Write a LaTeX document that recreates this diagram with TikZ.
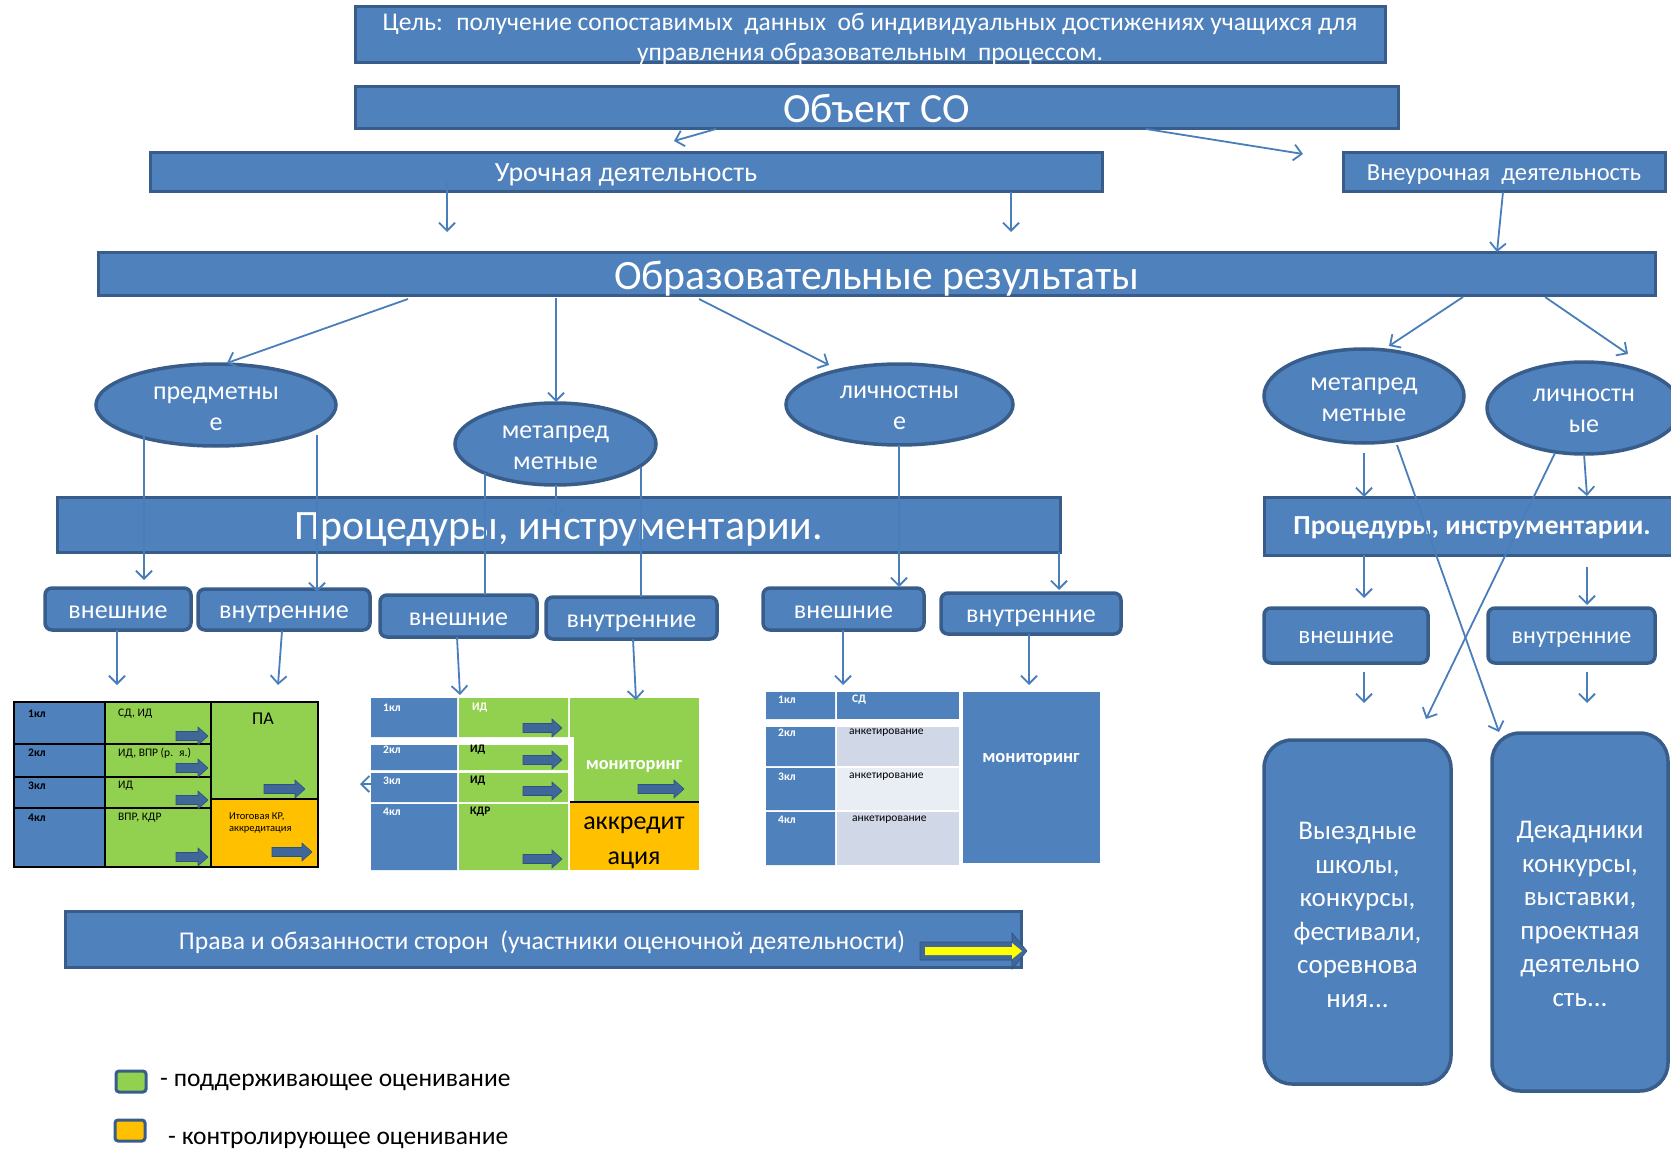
\documentclass[tikz,border=0pt]{standalone}
\usepackage{fontspec}
\setmainfont{Carlito}
\usetikzlibrary{arrows.meta,shapes.geometric}
\definecolor{bfill}{HTML}{4F81BD}
\definecolor{bborder}{HTML}{385D8A}
\definecolor{lblue}{HTML}{4A7EBB}
\definecolor{gfill}{HTML}{92D050}
\definecolor{ofill}{HTML}{FFC000}
\definecolor{grayA}{HTML}{D0D8E8}
\definecolor{grayB}{HTML}{E9EDF4}
\definecolor{barrowc}{HTML}{3F679A}
\definecolor{barrowd}{HTML}{2F5180}
\definecolor{yarrow}{HTML}{FFFF00}
\newcommand\fsz[2]{\fontsize{#1pt}{#2pt}\selectfont}
\newcommand\blkarrow[3]{\filldraw[fill=barrowc,draw=barrowd,line width=0.6pt] (#1,{#3-4.5}) -- ({#2-10},{#3-4.5}) -- ({#2-10},{#3-9}) -- (#2,#3) -- ({#2-10},{#3+9}) -- ({#2-10},{#3+4.5}) -- (#1,{#3+4.5}) -- cycle;}
\begin{document}
\begin{tikzpicture}[x=1pt,y=-1pt,
 bar/.style={draw=bborder,fill=bfill,line width=3pt,inner sep=0pt,text=white,align=center},
 fixL/.style={text height=29.6pt,text depth=0pt},
 rbox/.style={bar,rounded corners=7pt,line width=3.5pt,font=\fsz{26}{28},text height=18pt,text depth=0pt},
 bigbox/.style={bar,rounded corners=28pt,line width=3.5pt},
 ell/.style={ellipse,draw=bborder,fill=bfill,line width=3.5pt,inner sep=0pt},
 wtxt/.style={inner sep=0pt,text=white,align=center},
 conn/.style={draw=lblue,line width=1.8pt,-{Straight Barb[length=8pt,width=16pt]}},
 plain/.style={draw=lblue,line width=1.8pt},
 lbl/.style={inner sep=0pt,anchor=west},
 wlbl/.style={lbl,text=white,font=\fsz{11.5}{13}\bfseries},
 blbl/.style={lbl,font=\fsz{11.5}{13}},
 kblbl/.style={lbl,font=\fsz{11.5}{13}\bfseries},
 leglbl/.style={lbl,font=\fsz{25.5}{27},text height=12pt,text depth=0pt},
 legbox/.style={draw=bborder,line width=3pt,rounded corners=3pt,minimum width=30pt,minimum height=21pt,inner sep=0pt},
]
\useasboundingbox (0,0) rectangle (1671,1150);
\clip (0,0) rectangle (1671,1150);

% ---------- top bars
\node[bar,minimum width=1030pt,minimum height=56pt] (goal) at (870,35) {};
\node[wtxt,font=\fsz{25.5}{30}] (goalt) at (870,38.5) {Цель: \ получение сопоставимых \ данных \ об индивидуальных достижениях учащихся для\\управления образовательным \ процессом.};
\node[bar,minimum width=1043pt,minimum height=42pt,font=\fsz{41.5}{43},fixL] (obj) at (876.5,108) {Объект СО};
\node[bar,minimum width=952pt,minimum height=39pt,font=\fsz{27.8}{29},text height=17.5pt,text depth=0pt] (uroch) at (626,172.5) {Урочная деятельность};
\node[bar,minimum width=322pt,minimum height=39pt,font=\fsz{24.5}{26},text height=15.5pt,text depth=0pt] (vneur) at (1504,172.5) {Внеурочная \ деятельность};
\node[bar,minimum width=1557pt,minimum height=43pt,font=\fsz{41.7}{43},fixL] (obr) at (876.5,274.5) {Образовательные результаты};

% ---------- ellipses
\node[ell,minimum width=240pt,minimum height=82pt] (pred) at (216,405) {};
\node[wtxt,font=\fsz{26}{31}] (predt) at (216,409) {предметны\\е};
\node[ell,minimum width=201pt,minimum height=82pt] (metaM) at (555.5,444) {};
\node[wtxt,font=\fsz{26}{31}] (metaMt) at (555.5,447.5) {метапред\\метные};
\node[ell,minimum width=227pt,minimum height=81pt] (lichM) at (899.5,404.5) {};
\node[wtxt,font=\fsz{26}{31}] (lichMt) at (899.5,408) {личностны\\е};
\node[ell,minimum width=200pt,minimum height=94pt] (metaR) at (1364,396) {};
\node[wtxt,font=\fsz{26}{31}] (metaRt) at (1364,399.5) {метапред\\метные};
\node[ell,minimum width=194pt,minimum height=92pt] (lichR) at (1584,408) {};
\node[wtxt,font=\fsz{26}{31}] (lichRt) at (1584,411) {личностн\\ые};

% ---------- procedures
\node[bar,minimum width=1003pt,minimum height=55pt,font=\fsz{41.8}{43},fixL] (procL) at (558.5,524.5) {Процедуры, инструментарии.};
\node[bar,minimum width=416pt,minimum height=58pt,font=\fsz{27.5}{29}\bfseries,text height=16.5pt,text depth=0pt] (procR) at (1472,526) {Процедуры, инструментарии.};

% ---------- small boxes
\node[rbox,minimum width=146pt,minimum height=42pt] (vn1) at (118,609) {внешние};
\node[rbox,minimum width=172pt,minimum height=41pt] (vt1) at (284,609.5) {внутренние};
\node[rbox,minimum width=157pt,minimum height=42pt] (vn2) at (458.5,616) {внешние};
\node[rbox,minimum width=171pt,minimum height=42pt] (vt2) at (631.5,618) {внутренние};
\node[rbox,minimum width=161pt,minimum height=42pt] (vn3) at (843.5,609) {внешние};
\node[rbox,minimum width=180pt,minimum height=41pt] (vt3) at (1031,613.5) {внутренние};
\node[rbox,minimum width=164pt,minimum height=55pt,font=\fsz{25}{27},text height=16.6pt] (vnR) at (1346,635.5) {внешние};
\node[rbox,minimum width=167pt,minimum height=55pt,font=\fsz{24}{26},text height=16pt] (vtR) at (1571.5,635.5) {внутренние};

% ---------- bottom right boxes
\node[bigbox,minimum width=187pt,minimum height=344pt] (bL) at (1357.5,912) {};
\node[wtxt,font=\fsz{27}{33.5}] (bLt) at (1357.5,915) {Выездные\\школы,\\конкурсы,\\фестивали,\\соревнова\\ния...};
\node[bigbox,minimum width=176pt,minimum height=358pt] (bR) at (1580,912) {};
\node[wtxt,font=\fsz{27}{33.5}] (bRt) at (1580,914) {Декадники\\конкурсы,\\выставки,\\проектная\\деятельно\\сть...};

% ---------- table 1
\fill[bfill] (14,702) rectangle (105,867);
\fill[gfill] (105,702) rectangle (211,867);
\fill[gfill] (211,702) rectangle (318,799);
\fill[ofill] (211,799) rectangle (318,867);
\draw[black,line width=2pt] (14,744) -- (211,744) (14,777) -- (211,777) (14,808) -- (211,808) (211,799) -- (318,799) (105,702) -- (105,867) (211,702) -- (211,867);
\draw[black,line width=2.5pt] (14,702) rectangle (318,867);
\node[kblbl] (t1a) at (28,714) {1кл};
\node[kblbl] (t1b) at (28,753) {2кл};
\node[kblbl] (t1c) at (28,786) {3кл};
\node[kblbl] (t1d) at (28,818) {4кл};
\node[blbl] (t1e) at (118,714) {СД, ИД};
\node[blbl] (t1f) at (118,753) {ИД, ВПР (р. \ я.)};
\node[blbl] (t1g) at (118,786) {ИД};
\node[blbl] (t1h) at (118,818) {ВПР, КДР};
\node[inner sep=0pt,font=\fsz{18}{20}] (t1pa) at (263,719) {ПА};
\node[lbl,font=\fsz{10.5}{12},align=left] (t1it) at (229,823) {Итоговая КР,\\аккредитация};
\blkarrow{176}{208}{736}
\blkarrow{176}{208}{768}
\blkarrow{176}{208}{800}
\blkarrow{176}{208}{857}
\blkarrow{264}{305}{789}
\blkarrow{272}{312}{852}

% ---------- table 2
\fill[bfill] (371,698) rectangle (457,737) (371,745) rectangle (457,770) (371,773) rectangle (457,802) (371,804) rectangle (457,870);
\fill[gfill] (459,698) rectangle (568,737) (459,745) rectangle (568,770) (459,773) rectangle (568,802) (459,804) rectangle (568,870);
\fill[gfill] (570,698) rectangle (699,802);
\fill[ofill] (570,802) rectangle (699,870);
\fill[white] (568,737) rectangle (574,802);
\draw[black,line width=2pt] (570,802) -- (699,802);
\node[wlbl] (t2a) at (383,708) {1кл};
\node[wlbl] (t2b) at (383,750) {2кл};
\node[wlbl] (t2c) at (383,781) {3кл};
\node[wlbl] (t2d) at (383,812) {4кл};
\node[wlbl] (t2e) at (472,708) {ИД};
\node[kblbl] (t2f) at (470,750) {ИД};
\node[kblbl] (t2g) at (470,781) {ИД};
\node[kblbl] (t2h) at (470,812) {КДР};
\node[inner sep=0pt,text=white,font=\fsz{18.3}{20}\bfseries] (t2mon) at (634,766) {мониторинг};
\node[inner sep=0pt,align=center,font=\fsz{26}{35}] (t2ak) at (634,842.5) {аккредит\\ация};
\blkarrow{523}{562}{728}
\blkarrow{523}{562}{760}
\blkarrow{523}{562}{791}
\blkarrow{523}{562}{859}
\blkarrow{638}{684}{789}

% ---------- table 3
\fill[bfill] (766,692) rectangle (835,719) (766,727) rectangle (835,766) (766,768) rectangle (835,810) (766,812) rectangle (835,865);
\fill[bfill] (837,692) rectangle (959,719);
\fill[grayA] (837,727) rectangle (959,766);
\fill[grayB] (837,768) rectangle (959,810);
\fill[grayA] (837,812) rectangle (959,865);
\fill[bfill] (963,692) rectangle (1100,863);
\node[wlbl] (t3a) at (778,700) {1кл};
\node[wlbl] (t3b) at (778,733) {2кл};
\node[wlbl] (t3c) at (778,777) {3кл};
\node[wlbl] (t3d) at (778,820) {4кл};
\node[wlbl] (t3e) at (852,700) {СД};
\node[blbl] (t3f) at (849,733) {анкетирование};
\node[blbl] (t3g) at (849,777) {анкетирование};
\node[blbl] (t3h) at (852,820) {анкетирование};
\node[inner sep=0pt,text=white,font=\fsz{18.5}{20}\bfseries] (t3mon) at (1031,759.5) {мониторинг};

% ---------- rights bar
\node[bar,minimum width=956pt,minimum height=56pt] (prava) at (543,939) {};
\node[inner sep=0pt,text=white,font=\fsz{25.6}{27}] (pravat) at (542,942) {Права и обязанности сторон \ (участники оценочной деятельности)};
\filldraw[fill=barrowc,draw=barrowd,line width=0.6pt] (920,942) -- (1012,942) -- (1012,933) -- (1027,951) -- (1012,969) -- (1012,960) -- (920,960) -- cycle;
\fill[yarrow] (925,947) -- (1012,947) -- (1012,943) -- (1022,951) -- (1012,959) -- (1012,955) -- (925,955) -- cycle;

% ---------- legend
\node[legbox,fill=gfill] (legG) at (131,1081.5) {};
\node[leglbl] (legGt) at (160,1080.5) {- поддерживающее оценивание};
\node[legbox,fill=ofill] (legO) at (130,1130.5) {};
\node[leglbl] (legOt) at (168,1138.5) {- контролирующее оценивание};

% ---------- connector coordinates
\coordinate (c1s) at (716,129);   \coordinate (c1e) at (674,141);
\coordinate (c2s) at (1146,129);  \coordinate (c2e) at (1303,154);
\coordinate (c3s) at (447,182);   \coordinate (c3e) at (447,232);
\coordinate (c4s) at (1011,192);  \coordinate (c4e) at (1011,232);
\coordinate (c5s) at (1503,192);  \coordinate (c5e) at (1497,252);
\coordinate (c6s) at (408,299);   \coordinate (c6e) at (227,363);
\coordinate (c7s) at (556,298);   \coordinate (c7e) at (556,402);
\coordinate (c8s) at (699,299);   \coordinate (c8e) at (829,365);
\coordinate (c9s) at (1463,297);  \coordinate (c9e) at (1389,346);
\coordinate (c10s) at (1545,297); \coordinate (c10e) at (1628,354);
\coordinate (c11s) at (144,435);  \coordinate (c11e) at (144,580);
\coordinate (c12s) at (317,435);  \coordinate (c12e) at (317,592);
\coordinate (c13s) at (485,473);  \coordinate (c13e) at (485,595);
\coordinate (c14s) at (641,467);  \coordinate (c14e) at (641,597);
\coordinate (c15s) at (556,485);  \coordinate (c15e) at (556,518);
\coordinate (c16s) at (899,445);  \coordinate (c16e) at (899,587);
\coordinate (c17s) at (1059,552); \coordinate (c17e) at (1059,590);
\coordinate (c18s) at (117,630);  \coordinate (c18e) at (117,685);
\coordinate (c19s) at (282,631);  \coordinate (c19e) at (278,685);
\coordinate (c20s) at (457,637);  \coordinate (c20e) at (460,695);
\coordinate (c21s) at (633,639);  \coordinate (c21e) at (636,700);
\coordinate (c22s) at (843,630);  \coordinate (c22e) at (843,685);
\coordinate (c23s) at (1029,634); \coordinate (c23e) at (1029,685);
\coordinate (c24s) at (1364,453); \coordinate (c24e) at (1364,497);
\coordinate (c25s) at (1584,454); \coordinate (c25e) at (1587,496);
\coordinate (c26s) at (1364,555); \coordinate (c26e) at (1364,598);
\coordinate (c27s) at (1587,567); \coordinate (c27e) at (1587,605);
\coordinate (c28s) at (1364,672); \coordinate (c28e) at (1364,703);
\coordinate (c29s) at (1587,672); \coordinate (c29e) at (1587,703);
\coordinate (c30s) at (1397,445); \coordinate (c30e) at (1499,732);
\coordinate (c31s) at (1555,453); \coordinate (c31e) at (1426,719);
\coordinate (c32s) at (372,784);  \coordinate (c32e) at (360,784);

\foreach \i in {1,...,12,15,16,17,18,19,20,21,22,23,24,25,26,27,28,29,30,31,32}
  \draw[conn] (c\i s) -- (c\i e);
\draw[plain] (c13s) -- (c13e);
\draw[plain] (c14s) -- (c14e);
\end{tikzpicture}
\end{document}
